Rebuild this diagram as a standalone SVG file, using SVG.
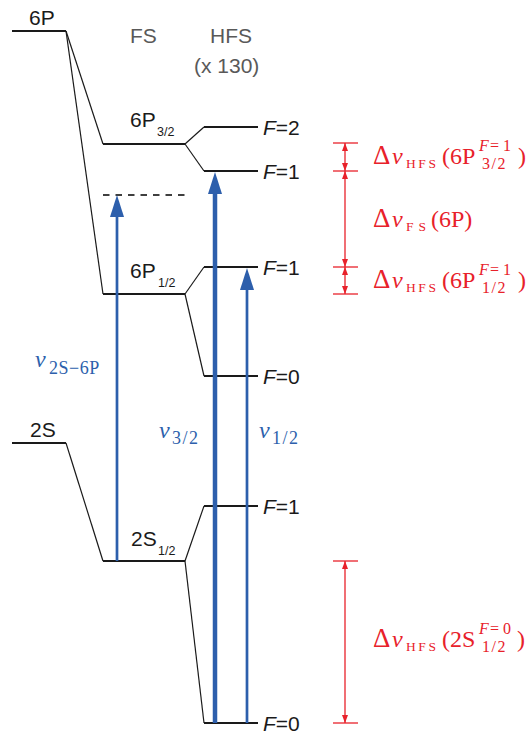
<svg xmlns="http://www.w3.org/2000/svg" width="529" height="736" viewBox="0 0 529 736">
<defs>
<style>
.lvl{stroke:#1a1a1a;stroke-width:2;fill:none}
.sl{stroke:#1a1a1a;stroke-width:1.2;fill:none}
.dash{stroke:#000;stroke-width:1.4;stroke-dasharray:6.5 6;fill:none}
.lab{font-family:"Liberation Sans",Arial,sans-serif;font-size:21px;fill:#1a1a1a}
.sub{font-size:12.5px}
.hdr{font-family:"Liberation Sans",Arial,sans-serif;font-size:21px;fill:#595959}
.F{font-family:"Liberation Sans",Arial,sans-serif;font-size:21px;fill:#1a1a1a}
.blue{stroke:#2d5fac;fill:none}
.red{stroke:#e8212a;stroke-width:1.3;fill:none}
.m{font-family:"Liberation Serif","Times New Roman",serif;font-size:24px}
.mr{fill:#e8212a}
.mb{fill:#2d5fac}
.it{font-style:italic}
.D{font-size:27px}
.sc{font-size:13.5px}
.s2{font-size:16px}
.bs{font-size:18px}
</style>
<marker id="bh" markerUnits="userSpaceOnUse" markerWidth="22" markerHeight="14" viewBox="0 0 22 14" refX="0" refY="7" orient="auto"><path d="M0,0 L22,7 L0,14 z" fill="#2d5fac"/></marker>
<marker id="rh" markerUnits="userSpaceOnUse" markerWidth="8" markerHeight="6" viewBox="0 0 8 6" refX="8" refY="3" orient="auto-start-reverse"><path d="M0,0 L8,3 L0,6 z" fill="#e8212a"/></marker>
</defs>
<rect width="529" height="736" fill="#fff"/>

<g id="header">
<text class="hdr" x="130" y="43">FS</text>
<text class="hdr" x="210" y="43">HFS</text>
<text class="hdr" x="194" y="73">(x 130)</text>
</g>

<g id="level-6P">
<line class="lvl" x1="12" y1="31" x2="66" y2="31"/>
<text class="lab" x="29" y="25">6P</text>
</g>
<g id="level-6P32">
<line class="lvl" x1="103" y1="144" x2="185" y2="144"/>
<text class="lab" x="130" y="127">6P<tspan class="sub" x="157" y="136">3/2</tspan></text>
</g>
<g id="level-6P32-F2">
<line class="lvl" x1="204" y1="127" x2="258" y2="127"/>
<text class="F" x="263" y="135"><tspan class="it">F</tspan>=2</text>
</g>
<g id="level-6P32-F1">
<line class="lvl" x1="204" y1="171" x2="258" y2="171"/>
<text class="F" x="263" y="179"><tspan class="it">F</tspan>=1</text>
</g>
<g id="virtual-level">
<line class="dash" x1="103" y1="195" x2="185" y2="195"/>
</g>
<g id="level-6P12">
<line class="lvl" x1="103" y1="294" x2="185" y2="294"/>
<text class="lab" x="130" y="278">6P<tspan class="sub" x="158" y="287">1/2</tspan></text>
</g>
<g id="level-6P12-F1">
<line class="lvl" x1="204" y1="267" x2="258" y2="267"/>
<text class="F" x="263" y="275"><tspan class="it">F</tspan>=1</text>
</g>
<g id="level-6P12-F0">
<line class="lvl" x1="204" y1="376" x2="258" y2="376"/>
<text class="F" x="263" y="384"><tspan class="it">F</tspan>=0</text>
</g>
<g id="level-2S">
<line class="lvl" x1="12" y1="443" x2="66" y2="443"/>
<text class="lab" x="30" y="437">2S</text>
</g>
<g id="level-2S12">
<line class="lvl" x1="103" y1="561" x2="185" y2="561"/>
<text class="lab" x="131" y="546">2S<tspan class="sub" x="158" y="555">1/2</tspan></text>
</g>
<g id="level-2S12-F1">
<line class="lvl" x1="204" y1="506" x2="258" y2="506"/>
<text class="F" x="263" y="514"><tspan class="it">F</tspan>=1</text>
</g>
<g id="level-2S12-F0">
<line class="lvl" x1="204" y1="723" x2="258" y2="723"/>
<text class="F" x="263" y="731"><tspan class="it">F</tspan>=0</text>
</g>

<g id="connectors">
<line class="sl" x1="66" y1="31" x2="103" y2="144"/>
<line class="sl" x1="66" y1="31" x2="103" y2="294"/>
<line class="sl" x1="185" y1="144" x2="204" y2="127"/>
<line class="sl" x1="185" y1="144" x2="204" y2="171"/>
<line class="sl" x1="185" y1="294" x2="204" y2="267"/>
<line class="sl" x1="185" y1="294" x2="204" y2="376"/>
<line class="sl" x1="66" y1="443" x2="103" y2="561"/>
<line class="sl" x1="185" y1="561" x2="204" y2="506"/>
<line class="sl" x1="185" y1="561" x2="204" y2="723"/>
<line class="blue" stroke-width="2.7" x1="117" y1="561" x2="117" y2="217" marker-end="url(#bh)"/>
<line class="blue" stroke-width="4.5" x1="215" y1="723" x2="215" y2="194" marker-end="url(#bh)"/>
<line class="blue" stroke-width="2.7" x1="247" y1="723" x2="247" y2="290" marker-end="url(#bh)"/>
</g>

<g id="blue-labels">
<text class="m mb" x="35" y="367"><tspan class="it">ν</tspan><tspan class="bs" x="49" y="374" letter-spacing="0.5">2S−6P</tspan></text>
<text class="m mb" x="159" y="438"><tspan class="it">ν</tspan><tspan class="bs" x="172" y="444" letter-spacing="1.5">3/2</tspan></text>
<text class="m mb" x="259" y="438"><tspan class="it">ν</tspan><tspan class="bs" x="272" y="444" letter-spacing="1.5">1/2</tspan></text>
</g>

<g id="intervals">
<line class="red" x1="333" y1="143" x2="358" y2="143"/>
<line class="red" x1="333" y1="171" x2="358" y2="171"/>
<line class="red" x1="333" y1="267" x2="358" y2="267"/>
<line class="red" x1="333" y1="294" x2="358" y2="294"/>
<line class="red" x1="333" y1="561" x2="358" y2="561"/>
<line class="red" x1="333" y1="723" x2="358" y2="723"/>
<line class="red" x1="345" y1="143" x2="345" y2="171" marker-start="url(#rh)" marker-end="url(#rh)"/>
<line class="red" x1="345" y1="171" x2="345" y2="267" marker-start="url(#rh)" marker-end="url(#rh)"/>
<line class="red" x1="345" y1="267" x2="345" y2="294" marker-start="url(#rh)" marker-end="url(#rh)"/>
<line class="red" x1="345" y1="561" x2="345" y2="723" marker-start="url(#rh)" marker-end="url(#rh)"/>
</g>

<g id="red-labels">
<text class="m mr" y="164"><tspan class="D" x="373">Δ</tspan><tspan class="it" x="392">ν</tspan><tspan class="sc" x="406" y="168" textLength="30" lengthAdjust="spacing">HFS</tspan><tspan x="442" y="164">(6P</tspan><tspan class="s2 it" x="479" y="151">F</tspan><tspan class="s2" x="490" y="151">=</tspan><tspan class="s2" x="503" y="151">1</tspan><tspan class="s2" x="482" y="169" letter-spacing="1.5">3/2</tspan><tspan x="518" y="164">)</tspan></text>
<text class="m mr" y="227"><tspan class="D" x="373">Δ</tspan><tspan class="it" x="392">ν</tspan><tspan class="sc" x="406" y="231" textLength="20" lengthAdjust="spacing">FS</tspan><tspan x="431" y="227">(6P)</tspan></text>
<text class="m mr" y="288"><tspan class="D" x="373">Δ</tspan><tspan class="it" x="392">ν</tspan><tspan class="sc" x="406" y="292" textLength="30" lengthAdjust="spacing">HFS</tspan><tspan x="442" y="288">(6P</tspan><tspan class="s2 it" x="479" y="275">F</tspan><tspan class="s2" x="490" y="275">=</tspan><tspan class="s2" x="503" y="275">1</tspan><tspan class="s2" x="482" y="293" letter-spacing="1.5">1/2</tspan><tspan x="518" y="288">)</tspan></text>
<text class="m mr" y="647"><tspan class="D" x="373">Δ</tspan><tspan class="it" x="392">ν</tspan><tspan class="sc" x="406" y="651" textLength="30" lengthAdjust="spacing">HFS</tspan><tspan x="442" y="647">(2S</tspan><tspan class="s2 it" x="479" y="634">F</tspan><tspan class="s2" x="490" y="634">=</tspan><tspan class="s2" x="503" y="634">0</tspan><tspan class="s2" x="482" y="652" letter-spacing="1.5">1/2</tspan><tspan x="517" y="647">)</tspan></text>
</g>
</svg>
